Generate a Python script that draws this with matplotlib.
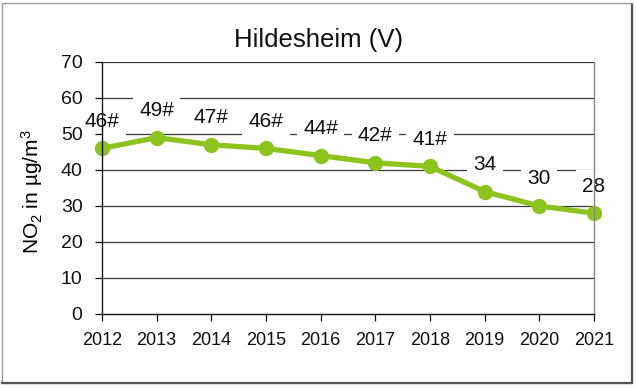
import matplotlib.pyplot as plt
from matplotlib.patches import Rectangle
from matplotlib.lines import Line2D

# Daten: NO2-Jahresmittel Hildesheim
years = [2012, 2013, 2014, 2015, 2016, 2017, 2018, 2019, 2020, 2021]
no2 = [46, 49, 47, 46, 44, 42, 41, 34, 30, 28]
labels = ["46#", "49#", "47#", "46#", "44#", "42#", "41#", "34", "30", "28"]
yticks = [0, 10, 20, 30, 40, 50, 60, 70]

GREEN = "#8DC21F"
GRID = "#3A3A3A"

plt.rcParams.update({
    "font.family": ["Liberation Sans", "DejaVu Sans"],
    "mathtext.default": "regular",
})

fig = plt.figure(figsize=(6.37, 3.88), dpi=100)
ax = fig.add_axes([102 / 637, 1 - 314 / 388, 492 / 637, 252 / 388])

# Rahmen um die Grafik (rechts/unten etwas dunkler)
fig.patches.append(Rectangle((2 / 637, 5 / 388), 630 / 637, 380 / 388,
                             transform=fig.transFigure, fill=False,
                             edgecolor="#999999", linewidth=1.0))
fig.lines.append(Line2D([632 / 637, 632 / 637, 2 / 637], [383 / 388, 5 / 388, 5 / 388],
                        transform=fig.transFigure, color="#555555", linewidth=1.6))

for y in yticks[1:]:
    ax.axhline(y, color=GRID, linewidth=0.9, zorder=1)

ax.plot(years, no2, color=GREEN, linewidth=3.8, marker="o", markersize=10,
        zorder=3, clip_on=False)

for x, y, t in zip(years, no2, labels):
    ax.annotate(t, xy=(x, y), xytext=(0, 19.5), textcoords="offset points",
                ha="center", va="center", fontsize=15, color="#111111",
                bbox=dict(boxstyle="square,pad=0.3", fc="white", ec="none"),
                zorder=2, annotation_clip=False)

ax.set_xlim(2012, 2021)
ax.set_ylim(0, 70)
ax.set_xticks(years)
ax.set_yticks(yticks)
ax.tick_params(axis="both", colors="#111111", length=5, width=0.9, direction="out")
ax.tick_params(axis="x", labelsize=13, pad=8)
ax.tick_params(axis="y", labelsize=14, pad=9)
ax.yaxis.set_zorder(4)
ax.xaxis.set_zorder(4)

ax.spines["top"].set_visible(False)
ax.spines["right"].set_color("#888888")
ax.spines["left"].set_color("#111111")
ax.spines["bottom"].set_color("#111111")
for s in ax.spines.values():
    s.set_linewidth(1.0)
    s.set_zorder(4)

ax.set_ylabel(r"NO$_2$ in µg/m$^3$", fontsize=15)
ax.yaxis.set_label_coords(-57 / 492, 0.485)
fig.text(0.5, 1 - 40 / 388, "Hildesheim (V)", ha="center", va="center",
         fontsize=18.5, color="#111111")

fig.savefig("out.png", dpi=100, facecolor="white")
